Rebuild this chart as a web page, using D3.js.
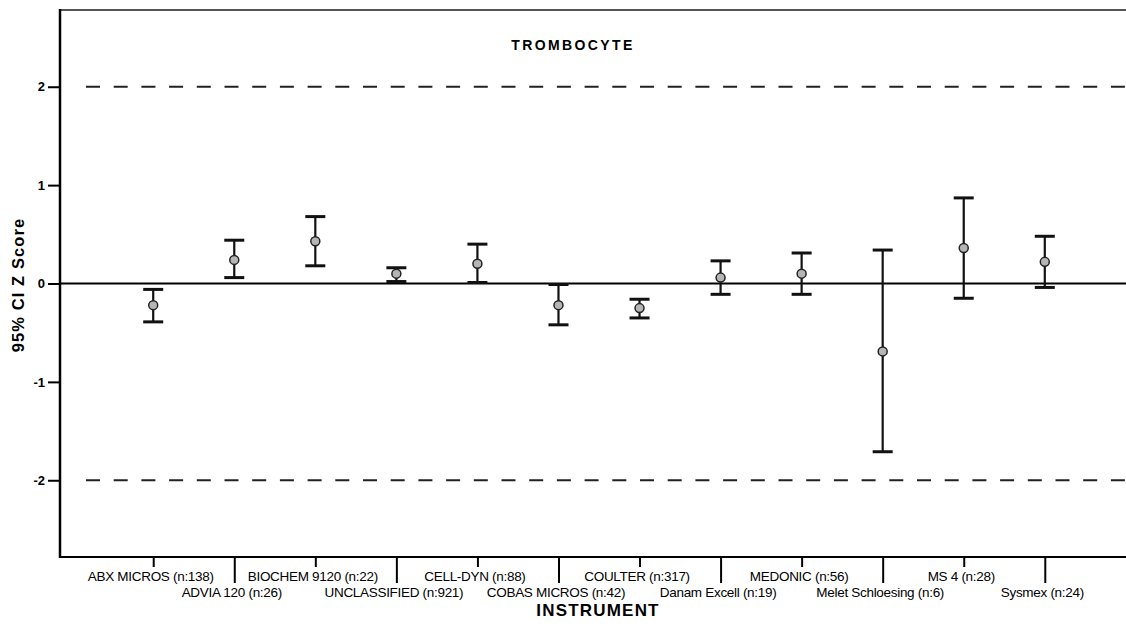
<!DOCTYPE html>
<html>
<head>
<meta charset="utf-8">
<script src="https://cdn.jsdelivr.net/npm/d3@7/dist/d3.min.js"></script>
<style>
  html, body { margin: 0; padding: 0; background: #fff; }
  svg { display: block; font-family: "Liberation Sans", Arial, sans-serif; }
</style>
</head>
<body>
<div id="chart"></div>
<script>
(function () {
  "use strict";

  // instrumentos e n de cada grupo
  const instruments = [
    "ABX MICROS (n:138)", "ADVIA 120 (n:26)", "BIOCHEM 9120 (n:22)",
    "UNCLASSIFIED (n:921)", "CELL-DYN (n:88)", "COBAS MICROS (n:42)",
    "COULTER (n:317)", "Danam Excell (n:19)", "MEDONIC (n:56)",
    "Melet Schloesing (n:6)", "MS 4 (n:28)", "Sysmex (n:24)"
  ];
  // média do Z score e limites do IC 95%
  const meanZ  = [-0.22, 0.24, 0.43, 0.10, 0.20, -0.22, -0.25, 0.06, 0.10, -0.69, 0.36, 0.22];
  const lowerZ = [-0.39, 0.06, 0.18, 0.02, 0.01, -0.42, -0.35, -0.11, -0.11, -1.71, -0.15, -0.04];
  const upperZ = [-0.06, 0.44, 0.68, 0.16, 0.40, -0.01, -0.16, 0.23, 0.31, 0.34, 0.87, 0.48];

  const yTicks = [2, 1, 0, -1, -2];
  const limits = [2, -2];

  const data = instruments.map((name, i) => ({
    name, mean: meanZ[i], lo: lowerZ[i], hi: upperZ[i]
  }));

  const W = 1126, H = 626;
  const plot = { left: 60, top: 10, right: 1138, bottom: 557 };

  const svg = d3.select("#chart").append("svg")
    .attr("width", W).attr("height", H)
    .attr("viewBox", `0 0 ${W} ${H}`);

  const x = d3.scalePoint().domain(instruments)
    .range([plot.left, plot.right]).padding(1.15);
  const y = d3.scaleLinear().domain([-2.78, 2.78])
    .range([plot.bottom, plot.top]);

  // borda superior (cinza)
  svg.append("line")
    .attr("x1", plot.left).attr("x2", plot.right)
    .attr("y1", plot.top).attr("y2", plot.top)
    .attr("stroke", "#555").attr("stroke-width", 2);

  // linhas de limite ±2 tracejadas
  svg.selectAll("line.limit").data(limits).join("line")
    .attr("class", "limit")
    .attr("x1", plot.left + 26).attr("x2", plot.right)
    .attr("y1", (d) => y(d)).attr("y2", (d) => y(d))
    .attr("stroke", "#222").attr("stroke-width", 2)
    .attr("stroke-dasharray", "14 13.7");

  // linha do zero
  svg.append("line")
    .attr("x1", plot.left).attr("x2", plot.right)
    .attr("y1", y(0)).attr("y2", y(0))
    .attr("stroke", "#000").attr("stroke-width", 2);

  // eixo Y
  const yAxis = svg.append("g")
    .attr("transform", `translate(${plot.left},0)`)
    .call(d3.axisLeft(y).tickValues(yTicks).tickSize(12).tickSizeOuter(0)
      .tickFormat((d) => String(d)));
  yAxis.select(".domain").remove();
  yAxis.selectAll(".tick line").attr("stroke", "#000").attr("stroke-width", 2);
  yAxis.selectAll(".tick text")
    .attr("x", -15)
    .attr("fill", "#000")
    .attr("font-size", 13)
    .attr("font-weight", "bold")
    .attr("font-family", "Liberation Sans, Arial, sans-serif");

  svg.append("line")
    .attr("x1", plot.left).attr("x2", plot.left)
    .attr("y1", plot.top - 1).attr("y2", plot.bottom + 1)
    .attr("stroke", "#000").attr("stroke-width", 2.5);

  // eixo X: rótulos alternados em duas linhas, tick longo na linha de baixo
  const xAxis = svg.append("g")
    .attr("transform", `translate(0,${plot.bottom})`)
    .call(d3.axisBottom(x).tickSize(10).tickSizeOuter(0));
  xAxis.select(".domain").remove();
  xAxis.selectAll(".tick line")
    .attr("stroke", "#000").attr("stroke-width", 2)
    .attr("y2", (d, i) => (i % 2 ? 26 : 10));
  xAxis.selectAll(".tick text")
    .attr("dy", 0)
    .attr("x", -3)
    .attr("y", (d, i) => (i % 2 ? 40 : 24))
    .attr("fill", "#000")
    .attr("font-size", 13.5)
    .attr("letter-spacing", -0.3)
    .attr("font-family", "Liberation Sans, Arial, sans-serif");

  svg.append("line")
    .attr("x1", plot.left).attr("x2", plot.right)
    .attr("y1", plot.bottom).attr("y2", plot.bottom)
    .attr("stroke", "#000").attr("stroke-width", 2);

  // barras de erro
  const capW = 20;
  const bars = svg.selectAll("g.ci").data(data).join("g").attr("class", "ci");
  bars.append("line")
    .attr("x1", (d) => x(d.name)).attr("x2", (d) => x(d.name))
    .attr("y1", (d) => y(d.hi)).attr("y2", (d) => y(d.lo))
    .attr("stroke", "#111").attr("stroke-width", 2.2);
  ["hi", "lo"].forEach((k) => {
    bars.append("line")
      .attr("x1", (d) => x(d.name) - capW / 2).attr("x2", (d) => x(d.name) + capW / 2)
      .attr("y1", (d) => y(d[k])).attr("y2", (d) => y(d[k]))
      .attr("stroke", "#111").attr("stroke-width", 3);
  });
  bars.append("circle")
    .attr("cx", (d) => x(d.name)).attr("cy", (d) => y(d.mean))
    .attr("r", 4.5)
    .attr("fill", "#b5b5b5").attr("stroke", "#222").attr("stroke-width", 1.5);

  // títulos
  svg.append("text")
    .attr("x", 573).attr("y", 50)
    .attr("text-anchor", "middle")
    .attr("font-size", 14).attr("font-weight", "bold")
    .attr("letter-spacing", 2.4)
    .text("TROMBOCYTE");

  svg.append("text")
    .attr("x", 598).attr("y", 616)
    .attr("text-anchor", "middle")
    .attr("font-size", 17).attr("font-weight", "bold")
    .attr("letter-spacing", 1.2)
    .text("INSTRUMENT");

  svg.append("text")
    .attr("transform", "translate(24,285) rotate(-90)")
    .attr("text-anchor", "middle")
    .attr("font-size", 16.5).attr("font-weight", "bold")
    .attr("letter-spacing", 1.1)
    .text("95% CI Z Score");
})();
</script>
</body>
</html>
